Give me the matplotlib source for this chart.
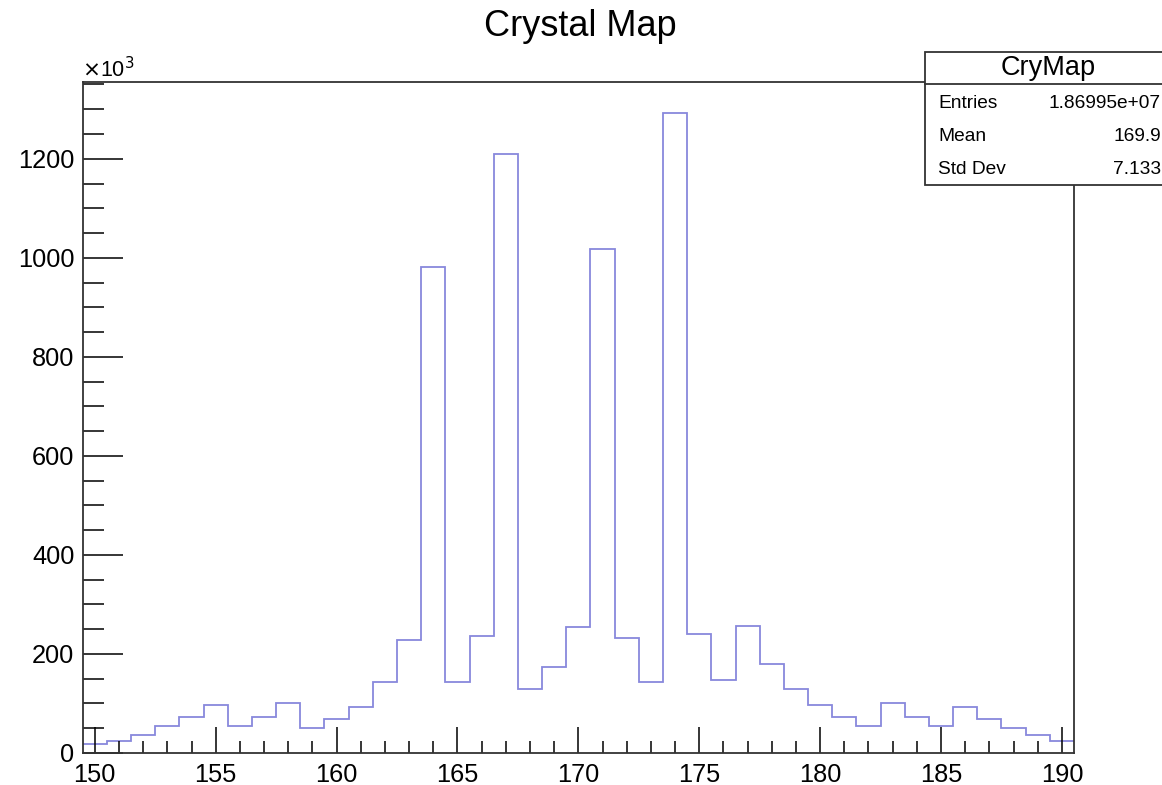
import numpy as np
import matplotlib
matplotlib.use("Agg")
import matplotlib.pyplot as plt
from matplotlib.patches import Rectangle
from matplotlib.lines import Line2D
from matplotlib.ticker import MultipleLocator

plt.rcParams['font.family'] = ['Liberation Sans', 'DejaVu Sans']

# -- DATA (counts in units of 10^3, one bin per integer crystal id) ---------------
bin_centers = list(range(150, 191))
counts = [17.5, 24, 36, 54.5, 72, 96, 54.5, 72, 100, 50,
          68, 93.6, 143, 228, 981, 143, 236, 1210, 129, 174,
          254, 1017.5, 232, 143, 1292, 240, 147.5, 257, 179, 129,
          97, 72, 54.5, 100, 72, 54.5, 93.6, 68, 50, 36,
          24]
stat_names = ["Entries", "Mean", "Std Dev"]
stat_values = ["1.86995e+07", "169.9", "7.133"]
hist_name = "CryMap"
title = "Crystal Map"

W, H = 1162, 785
fig = plt.figure(figsize=(W / 100, H / 100), dpi=100)

# pixel helpers (figure coords)
def fx(px):
    return px / W

def fy(py):
    return 1 - py / H

ax_l, ax_r, ax_t, ax_b = 82.7, 1074, 82, 753
ax = fig.add_axes([fx(ax_l), fy(ax_b), fx(ax_r) - fx(ax_l), fy(ax_t) - fy(ax_b)])

edges = np.array(bin_centers + [bin_centers[-1] + 1]) - 0.5
ax.stairs(counts, edges, baseline=None, color='#8888dc', lw=1.3)

ax.set_xlim(edges[0], edges[-1])
ax.set_ylim(0, 1355)

ax.xaxis.set_major_locator(MultipleLocator(5))
ax.xaxis.set_minor_locator(MultipleLocator(1))
ax.yaxis.set_major_locator(MultipleLocator(200))
ax.yaxis.set_minor_locator(MultipleLocator(50))
ax.tick_params(axis='x', which='major', direction='in', length=19, width=1.1, pad=7, labelsize=18.3)
ax.tick_params(axis='x', which='minor', direction='in', length=9, width=1.1)
ax.tick_params(axis='y', which='major', direction='in', length=29, width=1.1, pad=6, labelsize=18.3)
ax.tick_params(axis='y', which='minor', direction='in', length=15, width=1.1)
for s in ax.spines.values():
    s.set_linewidth(1.3)
    s.set_color('#333333')

# exponent label
fig.text(fx(82), fy(70), r"$\times$10$^{3}$", fontsize=15.5, ha='left', va='center')

# title
fig.text(fx(580), fy(27), title, fontsize=26, ha='center', va='center')

# -- stats box --------------------------------------------------------------------
bx_l, bx_r, bx_t, bx_b, bx_sep = 925, 1172, 52, 185, 84
box = Rectangle((fx(bx_l), fy(bx_b)), fx(bx_r) - fx(bx_l), fy(bx_t) - fy(bx_b),
                transform=fig.transFigure, facecolor='white', edgecolor='#333333',
                lw=1.3, zorder=5, clip_on=False)
fig.patches.append(box)
fig.lines.append(Line2D([fx(bx_l), fx(bx_r)], [fy(bx_sep), fy(bx_sep)],
                        transform=fig.transFigure, color='#333333', lw=1.3, zorder=6))
fig.text(fx(1048), fy(68), hist_name, fontsize=19.5, ha='center', va='center', zorder=7)
for i, (n, v) in enumerate(zip(stat_names, stat_values)):
    yy = 103 + i * 33.5
    fig.text(fx(938), fy(yy), n, fontsize=13.8, ha='left', va='center', zorder=7)
    fig.text(fx(1161), fy(yy), v, fontsize=13.8, ha='right', va='center', zorder=7)

fig.savefig("out.png", dpi=100)
